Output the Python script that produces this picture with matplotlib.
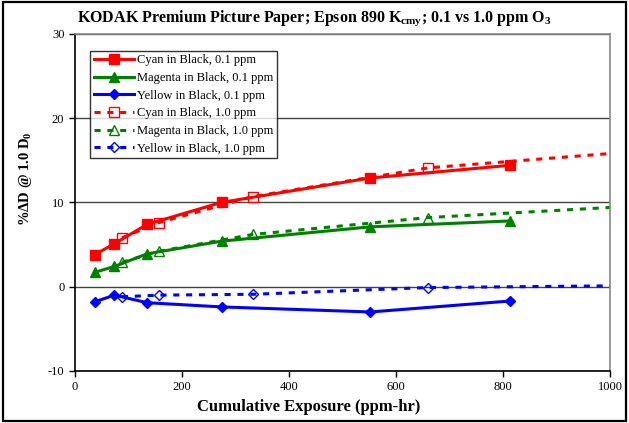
"""
KODAK Premium Picture Paper / Epson 890: %dD vs cumulative ozone exposure.
"""
import matplotlib
matplotlib.use("Agg")
import matplotlib.pyplot as plt
from matplotlib.patches import Rectangle

plt.rcParams["font.family"] = ["Liberation Serif", "DejaVu Serif"]
plt.rcParams["mathtext.fontset"] = "custom"
plt.rcParams["mathtext.rm"] = "Liberation Serif"
plt.rcParams["mathtext.bf"] = "Liberation Serif:bold"
plt.rcParams["axes.unicode_minus"] = False

# 0.1 ppm exposures (ppm-hr)
x_low = [37, 74, 135, 274, 552, 813]
cyan_low = [3.8, 5.1, 7.4, 10.0, 12.9, 14.4]
magenta_low = [1.7, 2.4, 3.9, 5.4, 7.1, 7.8]
yellow_low = [-1.8, -1.0, -1.9, -2.4, -3.0, -1.7]

# 1.0 ppm exposures (ppm-hr); last point sits on the right edge
x_high = [88, 157, 333, 660, 1000]
cyan_high = [5.8, 7.6, 10.7, 14.1, 15.8]
magenta_high = [2.9, 4.2, 6.2, 8.2, 9.4]
yellow_high = [-1.2, -1.0, -0.9, -0.1, 0.1]

fig = plt.figure(figsize=(6.29, 4.23), dpi=100)
ax = fig.add_axes([0.119, 0.123, 0.851, 0.797])

fig.patches.append(Rectangle((0.004, 0.005), 0.992, 0.99, transform=fig.transFigure,
                             fill=False, edgecolor="black", linewidth=1.6))

lw = 2.2
ax.plot(x_low, cyan_low, "-s", color="red", lw=lw, ms=7.5, label="Cyan in Black, 0.1 ppm")
ax.plot(x_low, magenta_low, "-^", color="green", lw=lw, ms=7.5, label="Magenta in Black, 0.1 ppm")
ax.plot(x_low, yellow_low, "-D", color="blue", lw=lw, ms=5.5, label="Yellow in Black, 0.1 ppm")
mk = [0, 1, 2, 3]
ax.plot(x_high, cyan_high, "--s", color="red", lw=lw, ms=7, mfc="none", mew=1,
        markevery=mk, dashes=(2, 2.2), label="Cyan in Black, 1.0 ppm", clip_on=False)
ax.plot(x_high, magenta_high, "--^", color="green", lw=lw, ms=7, mfc="none", mew=1,
        markevery=mk, dashes=(2, 2.2), label="Magenta in Black, 1.0 ppm", clip_on=False)
ax.plot(x_high, yellow_high, "--D", color="blue", lw=lw, ms=5.5, mfc="none", mew=1,
        markevery=mk, dashes=(2, 2.2), label="Yellow in Black, 1.0 ppm", clip_on=False)

ax.set_xlim(0, 1000)
ax.set_ylim(-10, 30)
ax.set_xticks(range(0, 1001, 200))
ax.set_yticks(range(-10, 31, 10))
ax.yaxis.grid(True, color="#444444", lw=1)
ax.set_axisbelow(True)
ax.tick_params(direction="out", labelsize=9, length=4, width=1)
for s in ("top", "right"):
    ax.spines[s].set_color("#888888")
    ax.spines[s].set_linewidth(1.2)
for s in ("left", "bottom"):
    ax.spines[s].set_linewidth(1.2)

fig.text(0.50, 0.957,
         r"KODAK Premium Picture Paper; Epson 890 K$_{\mathbf{cmy}}$; 0.1 vs 1.0 ppm O$_{\mathbf{3}}$",
         fontsize=11.5, fontweight="bold", ha="center", va="center")
fig.text(0.49, 0.037, "Cumulative Exposure (ppm-hr)", fontsize=12, fontweight="bold",
         ha="center", va="center")
fig.text(0.040, 0.577, r"%ΔD @ 1.0 D$_{\mathbf{0}}$", fontsize=10.5, fontweight="bold",
         rotation=90, ha="center", va="center")

leg = ax.legend(loc="upper left", bbox_to_anchor=(0.028, 0.95), fontsize=9, frameon=True,
                fancybox=False, edgecolor="black", handlelength=3.2, handletextpad=0.3,
                borderpad=0.3, labelspacing=0.45, borderaxespad=0)
leg.get_frame().set_linewidth(1)

fig.savefig("out.png", dpi=100)
